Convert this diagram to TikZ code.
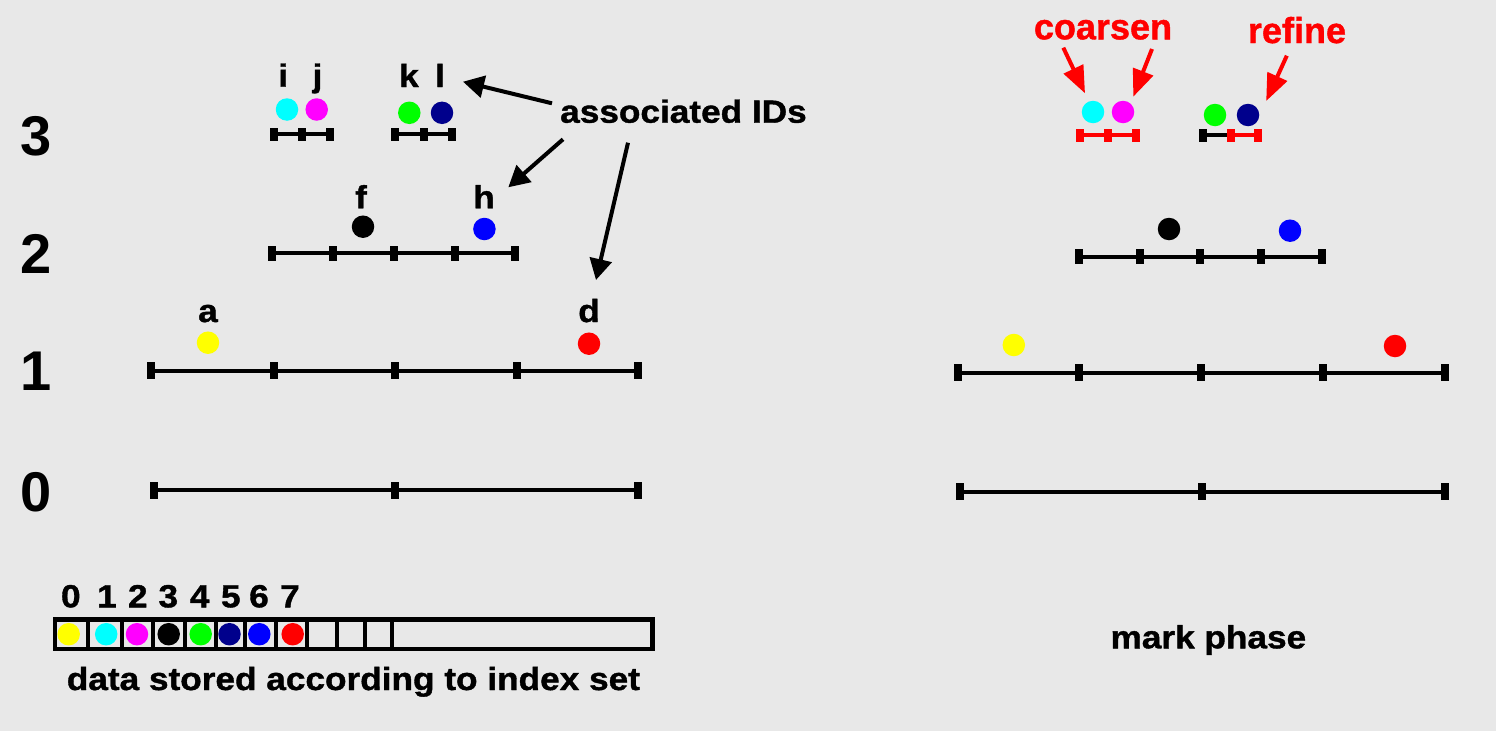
\documentclass[tikz,border=0pt]{standalone}
\usepackage{fontspec}
\setmainfont{Liberation Sans}
\newfontfamily\widefam[FakeStretch=1.1,FakeBold=1.2]{Liberation Sans}
\newfontfamily\redfam[FakeBold=1.2]{Liberation Sans}
\usetikzlibrary{arrows.meta}
\definecolor{bg}{RGB}{232,232,232}
\definecolor{navy}{RGB}{0,0,140}
\definecolor{pcyan}{RGB}{0,255,255}
\definecolor{pmagenta}{RGB}{255,0,255}
\definecolor{pgreen}{RGB}{0,255,0}
\definecolor{pyellow}{RGB}{255,255,0}
\definecolor{pblue}{RGB}{0,0,255}
\definecolor{pred}{RGB}{255,0,0}
\newcommand\mytick[4]{\fill[#4] (#1-4,#2-#3) rectangle (#1+4,#2+#3);}
\begin{document}
\begin{tikzpicture}[x=1pt,y=-1pt,
 lbl/.style={font=\widefam\bfseries\fontsize{32}{36}\selectfont, inner sep=0pt, anchor=base},
 lev/.style={font=\bfseries\fontsize{56}{60}\selectfont, inner sep=0pt, anchor=base},
 redlbl/.style={font=\redfam\bfseries\fontsize{36}{40}\selectfont, text=pred, inner sep=0pt, anchor=base},
 dot/.style={circle, inner sep=0pt, minimum size=22.5pt, fill=#1},
 seg/.style={line width=4.2pt},
 ptr/.style={line width=4pt, -{Triangle[length=21pt,width=22pt]}},
 rptr/.style={line width=4pt, pred, -{Triangle[length=27pt,width=21pt]}},
 cell/.style={line width=4.5pt},
 divider/.style={line width=3.8pt}]
\fill[bg] (0,0) rectangle (1496,731);
\useasboundingbox (0,0) rectangle (1496,731);

% level labels
\node[lev] (lev3) at (36,155) {3};
\node[lev] (lev2) at (36,273) {2};
\node[lev] (lev1) at (36,390) {1};
\node[lev] (lev0) at (36,511) {0};

% ---------------- left: level 0
\draw[seg] (154,490.3) -- (637.5,490.3);
\foreach \x in {154,395,637.5} {\mytick{\x}{490.3}{8.5}{black}}
% level 1
\draw[seg] (151,370.7) -- (638,370.7);
\foreach \x in {151,273.5,395,516.5,638} {\mytick{\x}{370.7}{8.5}{black}}
% level 2
\draw[seg] (272,253.3) -- (515,253.3);
\foreach \x in {272,333,394,454.5,515} {\mytick{\x}{253.3}{7.5}{black}}
% level 3
\draw[seg] (274,134) -- (329.5,134);
\foreach \x in {274,302,329.5} {\mytick{\x}{134}{6.5}{black}}
\draw[seg] (395,134) -- (452,134);
\foreach \x in {395,424,452} {\mytick{\x}{134}{6.5}{black}}

% dots left
\node[dot=pyellow] (da) at (208,342.7) {};
\node[dot=pred] (dd) at (589,343.7) {};
\node[dot=black] (df) at (363,226.7) {};
\node[dot=pblue] (dh) at (484.4,229) {};
\node[dot=pcyan] (di) at (287,109.5) {};
\node[dot=pmagenta] (dj) at (316.7,109.5) {};
\node[dot=pgreen] (dk) at (409.3,112.8) {};
\node[dot=navy] (dl) at (442,112.8) {};

% letter labels
\node[lbl] (ta) at (208,322) {a};
\node[lbl] (td) at (589,322) {d};
\node[lbl] (tf) at (361,208.3) {f};
\node[lbl] (th) at (484,208.3) {h};
\node[lbl] (ti) at (283.3,86.7) {i};
\node[lbl] (tj) at (317.5,86.7) {j};
\node[lbl] (tk) at (409,87) {k};
\node[lbl] (tl) at (440,87) {l};

\node[lbl] (assoc) at (683.5,122.7) {associated IDs};
\coordinate (s1) at (552,103.3);
\coordinate (e1) at (463,81.7);
\coordinate (s2) at (563,139.3);
\coordinate (e2) at (508.3,187.3);
\coordinate (s3) at (628,142.7);
\coordinate (e3) at (596,280);
\draw[ptr] (s1) -- (e1);
\draw[ptr] (s2) -- (e2);
\draw[ptr] (s3) -- (e3);

% array
\draw[cell] (55,619.5) rectangle (652.5,649);
\foreach \x in {88.3,121.7,153.3,185,215.7,245,276,306.7,337.3,365,392} {\draw[divider] (\x,619.5) -- (\x,649);}
\node[dot=pyellow] (c0) at (68.7,634.2) {};
\node[dot=pcyan] (c1) at (106.2,634.2) {};
\node[dot=pmagenta] (c2) at (137,634.2) {};
\node[dot=black] (c3) at (168.7,634.2) {};
\node[dot=pgreen] (c4) at (200.7,634.2) {};
\node[dot=navy] (c5) at (229.5,634.2) {};
\node[dot=pblue] (c6) at (259.3,634.2) {};
\node[dot=pred] (c7) at (292.7,634.2) {};
\node[lbl] (n0) at (70.8,607.3) {0};
\node[lbl] (n1) at (107,607.3) {1};
\node[lbl] (n2) at (137.8,607.3) {2};
\node[lbl] (n3) at (168.3,607.3) {3};
\node[lbl] (n4) at (199.7,607.3) {4};
\node[lbl] (n5) at (230.8,607.3) {5};
\node[lbl] (n6) at (259,607.3) {6};
\node[lbl] (n7) at (290,607.3) {7};
\node[lbl] (store) at (353.4,690) {data stored according to index set};

% ---------------- right
\draw[seg] (960,491.7) -- (1445,491.7);
\foreach \x in {960,1202.4,1445} {\mytick{\x}{491.7}{8.5}{black}}
\draw[seg] (957.7,372.7) -- (1445,372.7);
\foreach \x in {957.7,1079.4,1201.3,1323.3,1445} {\mytick{\x}{372.7}{8.5}{black}}
\draw[seg] (1079,256.7) -- (1322,256.7);
\foreach \x in {1079,1139.6,1200.3,1261,1322} {\mytick{\x}{256.7}{7.5}{black}}
\draw[seg,pred] (1080,135) -- (1135.7,135);
\foreach \x in {1080,1108,1135.7} {\mytick{\x}{135}{6.5}{pred}}
\draw[seg] (1202.8,135.3) -- (1230.8,135.3);
\mytick{1202.8}{135.3}{6.5}{black}
\draw[seg,pred] (1230.8,135.3) -- (1258.4,135.3);
\foreach \x in {1230.8,1258.4} {\mytick{\x}{135.3}{6.5}{pred}}

\node[dot=pyellow] (ra) at (1013.8,345) {};
\node[dot=pred] (rd) at (1395,346) {};
\node[dot=black] (rf) at (1169,229) {};
\node[dot=pblue] (rh) at (1290,230.7) {};
\node[dot=pcyan] (ri) at (1093,112) {};
\node[dot=pmagenta] (rj) at (1123,112) {};
\node[dot=pgreen] (rk) at (1215,115) {};
\node[dot=navy] (rl) at (1248,115) {};

\node[redlbl] (coarsen) at (1103,39.3) {coarsen};
\node[redlbl] (refine) at (1297,43) {refine};
\coordinate (rs1) at (1063.3,47.7);
\coordinate (re1) at (1085,93.3);
\coordinate (rs2) at (1152,49);
\coordinate (re2) at (1133.3,96.7);
\coordinate (rs3) at (1286.8,55.7);
\coordinate (re3) at (1266.2,101);
\draw[rptr] (rs1) -- (re1);
\draw[rptr] (rs2) -- (re2);
\draw[rptr] (rs3) -- (re3);

\node[lbl] (mark) at (1208.4,648.3) {mark phase};
\end{tikzpicture}
\end{document}
